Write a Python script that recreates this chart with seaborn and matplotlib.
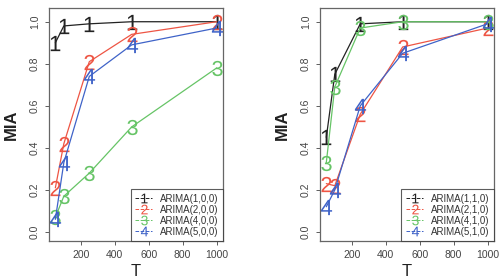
import matplotlib
matplotlib.use("Agg")
import matplotlib.pyplot as plt
from matplotlib.lines import Line2D
import seaborn as sns

# sample sizes
T = [50, 100, 250, 500, 1000]

# left panel: ARIMA(p,0,0)
left_labels = ["ARIMA(1,0,0)", "ARIMA(2,0,0)", "ARIMA(4,0,0)", "ARIMA(5,0,0)"]
left_1 = [0.90, 0.98, 0.99, 1.00, 1.00]
left_2 = [0.21, 0.42, 0.81, 0.94, 1.00]
left_3 = [0.07, 0.17, 0.28, 0.50, 0.78]
left_4 = [0.06, 0.33, 0.74, 0.89, 0.97]

# right panel: ARIMA(p,1,0)
right_labels = ["ARIMA(1,1,0)", "ARIMA(2,1,0)", "ARIMA(4,1,0)", "ARIMA(5,1,0)"]
right_1 = [0.45, 0.75, 0.99, 1.00, 1.00]
right_2 = [0.23, 0.22, 0.56, 0.88, 0.97]
right_3 = [0.33, 0.69, 0.97, 1.00, 1.00]
right_4 = [0.12, 0.20, 0.60, 0.85, 0.99]

digits = ["1", "2", "3", "4"]
colors = ["#222222", "#EE5544", "#66C466", "#3F63C8"]

sns.set_style("white")
plt.rcParams["font.family"] = ["Liberation Sans", "DejaVu Sans"]
plt.rcParams["mathtext.fontset"] = "custom"
plt.rcParams["mathtext.rm"] = "Liberation Sans"
plt.rcParams["mathtext.it"] = "Liberation Sans"

fig = plt.figure(figsize=(4.99, 2.78), dpi=100)
ax1 = fig.add_axes([0.098, 0.133, 0.349, 0.838])
ax2 = fig.add_axes([0.641, 0.133, 0.349, 0.838])


def draw_panel(ax, series, labels):
    for vals, d, c in zip(series, digits, colors):
        sns.lineplot(x=T, y=vals, ax=ax, color=c, linewidth=0.9,
                     marker="$" + d + "$", markersize=11,
                     markeredgewidth=0, markerfacecolor=c)

    ax.set_xlim(12, 1038)
    ax.set_ylim(-0.043, 1.065)
    ax.set_xticks([200, 400, 600, 800, 1000])
    ax.set_yticks([0.0, 0.2, 0.4, 0.6, 0.8, 1.0])
    ax.set_yticklabels(["0.0", "0.2", "0.4", "0.6", "0.8", "1.0"],
                       rotation=90, va="center")
    ax.tick_params(axis="both", labelsize=7.5, colors="#444444",
                   length=3, width=0.6, direction="out",
                   bottom=True, left=True)
    for s in ax.spines.values():
        s.set_color("#666666")
        s.set_linewidth(0.9)
    ax.set_xlabel("T", fontsize=12, color="#222222", labelpad=3)
    ax.set_ylabel("MIA", fontsize=12, color="#222222", labelpad=8,
                  fontweight="bold")

    handles = [Line2D([0], [0], color=c, linestyle="--", linewidth=0.7,
                      marker="$" + d + "$", markersize=7,
                      markeredgewidth=0, markerfacecolor=c)
               for d, c in zip(digits, colors)]
    leg = ax.legend(handles, labels, loc="lower right", fontsize=7,
                    frameon=True, fancybox=False, borderaxespad=0,
                    handlelength=1.8, handletextpad=0.8,
                    labelspacing=0.1, borderpad=0.45)
    leg.get_frame().set_edgecolor("#333333")
    leg.get_frame().set_linewidth(0.8)
    for t in leg.get_texts():
        t.set_color("#333333")


draw_panel(ax1, [left_1, left_2, left_3, left_4], left_labels)
draw_panel(ax2, [right_1, right_2, right_3, right_4], right_labels)

fig.savefig("out.png", dpi=100)
